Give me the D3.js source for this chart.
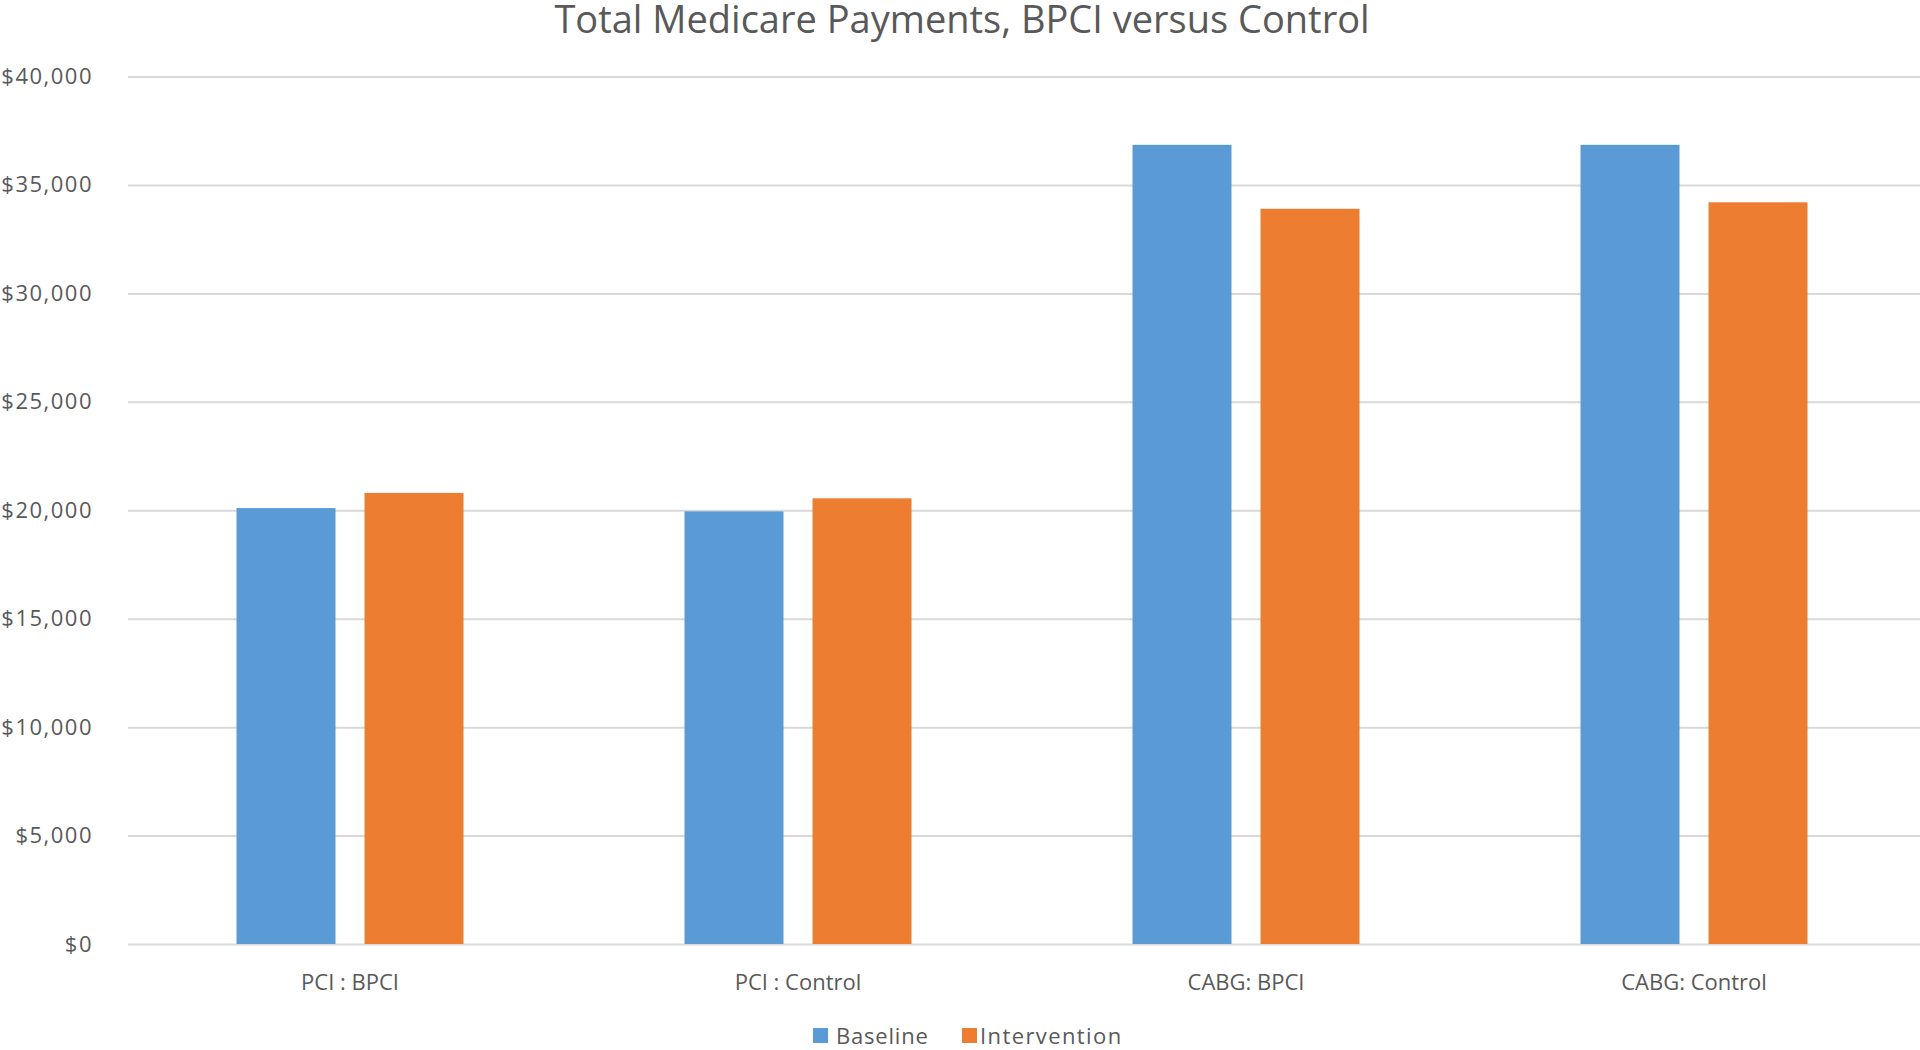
<!DOCTYPE html>
<html>
<head>
<meta charset="utf-8">
<script src="https://d3js.org/d3.v7.min.js"></script>
<style>
  body { margin: 0; background: #fff; }
  text { font-family: "Open Sans", "Noto Sans", sans-serif; fill: #595959; }
</style>
</head>
<body>
<script>
//chart data
var categories = ["PCI : BPCI", "PCI : Control", "CABG: BPCI", "CABG: Control"];
var seriesNames = ["Baseline", "Intervention"];
var baselineValues = [20100, 19950, 36850, 36850];
var interventionValues = [20800, 20550, 33900, 34200];
var yTicks = [0, 5000, 10000, 15000, 20000, 25000, 30000, 35000, 40000];
var colors = ["#5B9BD5", "#ED7D31"];
var title = "Total Medicare Payments, BPCI versus Control";

//build rows for the grouped bars
var data = categories.map(function(c, i) {
  return { category: c, values: [baselineValues[i], interventionValues[i]] };
});

var W = 1920, H = 1050;
//plot area (pixels of the whole page) - careful, "top" is taken by window.top
var plotLeft = 126, plotRight = 1918, plotTop = 76.5, plotBottom = 944;

var svg = d3.select("body")
  .append("svg")
  .attr("width", W)
  .attr("height", H);

//scales
var x0 = d3.scaleBand()
  .domain(categories)
  .range([plotLeft, plotRight]);

var x1 = d3.scaleBand()
  .domain(seriesNames)
  .range([0, x0.bandwidth()])
  .paddingInner(0.2266)
  .paddingOuter(0.863);

var y = d3.scaleLinear()
  .domain([0, 40000])
  .range([plotBottom, plotTop]);

//y axis with gridlines across the plot
var yAxis = svg.append("g")
  .attr("transform", "translate(" + (plotLeft + 2) + ",0)")
  .call(d3.axisLeft(y)
    .tickValues(yTicks)
    .tickFormat(d3.format("$,"))
    .tickSize(-(W - plotLeft - 2))
    .tickPadding(35));

yAxis.select(".domain").remove();
yAxis.selectAll(".tick line")
  .attr("stroke", "#d9d9d9")
  .attr("stroke-width", 2);
yAxis.selectAll(".tick text")
  .style("font-size", "22px")
  .style("letter-spacing", "1.5px")
  .attr("fill", "#595959");

//bars
var groups = svg.append("g")
  .selectAll("g")
  .data(data)
  .enter()
  .append("g")
  .attr("transform", function(d) { return "translate(" + x0(d.category) + ",0)"; });

groups.selectAll("rect")
  .data(function(d) {
    return d.values.map(function(v, i) { return { name: seriesNames[i], value: v, idx: i }; });
  })
  .enter()
  .append("rect")
  .attr("x", function(d) { return x1(d.name); })
  .attr("y", function(d) { return y(d.value); })
  .attr("width", x1.bandwidth())
  .attr("height", function(d) { return y(0) - y(d.value); })
  .attr("fill", function(d) { return colors[d.idx]; });

//category labels
var xAxis = svg.append("g")
  .attr("transform", "translate(0," + plotBottom + ")")
  .call(d3.axisBottom(x0).tickSize(0).tickPadding(0));

xAxis.select(".domain").remove();
xAxis.selectAll(".tick text")
  .attr("y", 46)
  .attr("dy", null)
  .style("font-size", "22px")
  .attr("fill", "#595959");

//title
svg.append("text")
  .attr("x", 962)
  .attr("y", 33)
  .attr("text-anchor", "middle")
  .style("font-size", "38px")
  .text(title);

//legend
var legendX = [813, 962];
var legend = svg.append("g")
  .selectAll("g")
  .data(seriesNames)
  .enter()
  .append("g")
  .attr("transform", function(d, i) { return "translate(" + legendX[i] + ",1028)"; });

legend.append("rect")
  .attr("width", 15)
  .attr("height", 15)
  .attr("fill", function(d, i) { return colors[i]; });

legend.append("text")
  .attr("x", function(d, i) { return i == 0 ? 23 : 18; })
  .attr("y", 16)
  .style("font-size", "22px")
  .style("letter-spacing", function(d, i) { return i == 0 ? "0.8px" : "1.4px"; })
  .text(function(d) { return d; });
</script>
</body>
</html>
